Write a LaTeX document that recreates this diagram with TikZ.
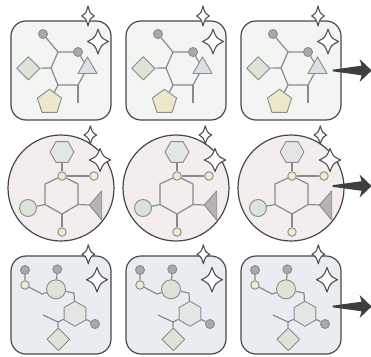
\documentclass[tikz,border=0pt]{standalone}
\usetikzlibrary{shapes.geometric}
\definecolor{cedge}{RGB}{72,72,72}
\definecolor{cbond}{RGB}{138,138,138}
\definecolor{cdot}{RGB}{170,170,170}
\definecolor{cgreen}{RGB}{219,228,215}
\definecolor{cyellow}{RGB}{238,236,206}
\definecolor{cpenta}{RGB}{236,232,204}
\definecolor{cblue}{RGB}{220,225,231}
\definecolor{chex}{RGB}{228,230,230}
\definecolor{cwedge}{RGB}{180,180,180}
\definecolor{cstar}{RGB}{80,80,80}
\definecolor{cpaneA}{RGB}{243,245,242}
\definecolor{cpaneB}{RGB}{244,237,237}
\definecolor{cpaneC}{RGB}{233,237,241}
\definecolor{carrow}{RGB}{62,62,62}

\begin{document}
\begin{tikzpicture}[x=1pt, y=-1pt, line join=round,
    panelbox/.style={draw=cedge, line width=1.2pt, rounded corners=15pt,
                     minimum width=100pt, minimum height=#1, inner sep=0pt},
    panelround/.style={draw=cedge, line width=1.2pt, circle, minimum size=106pt, inner sep=0pt},
    bond/.style={draw=cbond, line width=1.2pt},
    atom/.style={draw=cbond, line width=0.9pt, inner sep=0pt},
    graydot/.style={atom, circle, fill=cdot, minimum size=9pt},
    ydot/.style={atom, circle, fill=cyellow, minimum size=8.5pt},
    ball/.style={atom, circle, fill=cgreen, minimum size=#1},
    hexring/.style={atom, regular polygon, regular polygon sides=6, fill=chex, minimum size=24pt},
    penta/.style={atom, regular polygon, regular polygon sides=5, fill=cpenta, minimum size=25.5pt},
    tri/.style={atom, regular polygon, regular polygon sides=3, fill=cblue, minimum size=22pt},
    diam/.style={atom, diamond, fill=cgreen, minimum size=#1},
    wedge/.style={draw=cbond, line width=0.9pt, fill=cwedge},
    pics/sparkle/.style n args={2}{code={
      \filldraw[fill=white, draw=cstar, line width=1.1pt]
        (0,-#2) .. controls (0.3*#1,-0.3*#2) .. (#1,0)
        .. controls (0.3*#1,0.3*#2) .. (0,#2)
        .. controls (-0.3*#1,0.3*#2) .. (-#1,0)
        .. controls (-0.3*#1,-0.3*#2) .. cycle;
    }},
    fatarrow/.pic={
      \fill[carrow] (0,-0.8) -- (29,-4.8) -- (27,-11.5) -- (39,0)
        -- (27,11.5) -- (29,4.8) -- (0,0.8) -- cycle;
    },
    % ring with pentagon, diamond and triangle
    molA/.pic={
      \node[graydot] (a1) at (32,13) {};
      \node[graydot] (a2) at (67,31) {};
      \node[tri] (a3) at (76.5,47) {};
      \node[diam=23.5pt] (a4) at (17.3,47.3) {};
      \node[penta] (a5) at (38.5,81) {};
      \coordinate (r1) at (47,31);
      \coordinate (r4) at (67,64);
      \coordinate (r5) at (47,64);
      \coordinate (r6) at (40,47);
      \coordinate (r7) at (67,82);
      \draw[bond] (a1) -- (r1) -- (a2);
      \draw[bond] (a2) -- (a3) -- (r4) -- (r5) -- (r6) -- (r1);
      \draw[bond] (a4) -- (r6);
      \draw[bond] (r5) -- (a5);
      \draw[bond] (r4) -- (r7);
      \pic at (77,-5) {sparkle={6.3}{10}};
      \pic at (87,20.5) {sparkle={10.5}{12.3}};
    },
    % ring with hexagon on top and a wedge
    molB/.pic={
      \node[hexring] (b1) at (1,-36) {};
      \node[ydot] (b2) at (1,-12) {};
      \node[ydot] (b3) at (33,-12) {};
      \node[ydot] (b4) at (1,44) {};
      \node[ball=17pt] (b5) at (-33,20) {};
      \coordinate (q2) at (17,-4);
      \coordinate (q3) at (17,16.5);
      \coordinate (q4) at (1,26);
      \coordinate (q5) at (-16,16.5);
      \coordinate (q6) at (-16,-4);
      \coordinate (tip) at (28.3,17);
      \filldraw[wedge] (tip) -- (40.7,3) -- (40.7,32) -- cycle;
      \draw[bond] (b1) -- (b2) -- (b3);
      \draw[bond] (b2) -- (q2) -- (q3) -- (q4) -- (q5) -- (q6) -- (b2);
      \draw[bond] (q3) -- (tip);
      \draw[bond] (q5) -- (b5);
      \draw[bond] (q4) -- (b4);
      \pic at (29.3,-53) {sparkle={6.3}{9.2}};
      \pic at (39,-28) {sparkle={10.7}{11.5}};
    },
    % chain with ball, hexagon and diamond
    molC/.pic={
      \node[graydot] (c1) at (14,14) {};
      \node[ydot] (c2) at (14,29) {};
      \node[graydot] (c3) at (46.3,13.3) {};
      \node[ball=19pt] (c4) at (45,33.3) {};
      \node[hexring, shape border rotate=30, minimum size=25pt] (c5) at (64,57.7) {};
      \node[graydot] (c6) at (84,68) {};
      \node[diam=23pt] (c7) at (47.3,83.3) {};
      \coordinate (k1) at (31,38);
      \coordinate (k2) at (63,37);
      \coordinate (k3) at (32,59);
      \coordinate (k4) at (47,66);
      \draw[bond] (c1) -- (c2) -- (k1) -- (c4);
      \draw[bond] (c3) -- (c4);
      \draw[bond] (c4) -- (k2) -- (c5);
      \draw[bond] (c5) -- (c6);
      \draw[bond] (k3) -- (k4) -- (c5);
      \draw[bond] (k4) -- (c7);
      \pic at (77.3,-1.7) {sparkle={6.3}{9.5}};
      \pic at (86,23.7) {sparkle={10.5}{12.3}};
    },
  ]
  \useasboundingbox (0,0) rectangle (371,356);

  % top row
  \foreach \c [count=\i] in {0,115,230} {
    \node[panelbox=99pt, fill=cpaneA] (top\i) at (61+\c,70.5) {};
    \pic at (11+\c,21) {molA};
  }
  % middle row
  \foreach \c [count=\i] in {0,115,230} {
    \node[panelround, fill=cpaneB] (mid\i) at (61+\c,188) {};
    \pic at (61+\c,188) {molB};
  }
  % bottom row
  \foreach \c [count=\i] in {0,115,230} {
    \node[panelbox=98pt, fill=cpaneC] (bot\i) at (61+\c,305) {};
    \pic at (11+\c,256) {molC};
  }

  % outgoing arrows
  \pic at ([xshift=-9pt]top3.east) {fatarrow};
  \pic at ([xshift=-12pt,yshift=2pt]mid3.east) {fatarrow};
  \pic at ([xshift=-9pt,yshift=-1.5pt]bot3.east) {fatarrow};
\end{tikzpicture}
\end{document}
